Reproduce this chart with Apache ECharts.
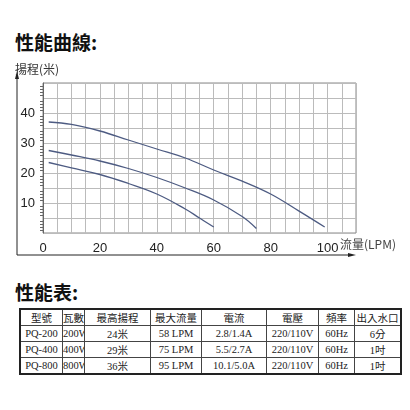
<!DOCTYPE html>
<html>
<head>
<meta charset="utf-8">
<script src="https://cdn.jsdelivr.net/npm/echarts@6/dist/echarts.min.js"></script>
<style>
  body { margin: 0; background: #fff; width: 410px; height: 410px; position: relative; overflow: hidden; }
  .head { position: absolute; left: 15px; font: bold 19px "Noto Sans CJK TC", sans-serif; color: #111; }
  #chart { position: absolute; left: 0; top: 0; width: 410px; height: 265px; }
  table { position: absolute; left: 19px; top: 308px; width: 374px; table-layout: fixed; border-collapse: collapse; border: 2px solid #222;
    font: 10.5px "Liberation Serif", "Noto Sans CJK TC", serif; color: #222; }
  td { border: 1px solid #444; height: 15px; padding: 0; text-align: center; white-space: nowrap; overflow: hidden; }
  tr:first-child td { font-weight: normal; }
</style>
</head>
<body>
<div class="head" style="top:28px">性能曲線:</div>
<div id="chart"></div>
<div class="head" style="top:278px">性能表:</div>
<table id="tbl"></table>
<script>
var flow200 = [2, 10, 20, 30, 40, 50, 55, 60];
var head200 = [23.5, 21.7, 19.5, 16.5, 13, 8, 5, 2];
var flow400 = [2, 10, 20, 30, 40, 50, 60, 70, 75];
var head400 = [27.5, 26, 24, 21.5, 18.5, 15, 11, 5.5, 1.5];
var flow800 = [2, 10, 20, 30, 40, 50, 60, 70, 80, 90, 99];
var head800 = [37, 36.2, 34, 31, 28, 25, 21, 17.3, 13, 7.3, 2];

var tableHeader = ['型號', '瓦數', '最高揚程', '最大流量', '電流', '電壓', '頻率', '出入水口'];
var tableRows = [
  ['PQ-200', '200W', '24米', '58 LPM', '2.8/1.4A', '220/110V', '60Hz', '6分'],
  ['PQ-400', '400W', '29米', '75 LPM', '5.5/2.7A', '220/110V', '60Hz', '1吋'],
  ['PQ-800', '800W', '36米', '95 LPM', '10.1/5.0A', '220/110V', '60Hz', '1吋']
];
var colWidths = [41, 21, 65, 50, 64, 51, 35, 45];

var tbl = document.getElementById('tbl');
[tableHeader].concat(tableRows).forEach(function (row) {
  var tr = document.createElement('tr');
  row.forEach(function (c, i) {
    var td = document.createElement('td');
    td.textContent = c;
    td.style.width = colWidths[i] + 'px';
    tr.appendChild(td);
  });
  tbl.appendChild(tr);
});

function pairs(xs, ys) {
  return xs.map(function (x, i) { return [x, ys[i]]; });
}
function curve(xs, ys) {
  return {
    type: 'line', smooth: 0.4, symbol: 'none',
    lineStyle: { color: '#4d5b82', width: 1.3 },
    data: pairs(xs, ys)
  };
}

var labelFont = { color: '#222', fontSize: 13, fontFamily: 'Liberation Sans, sans-serif' };
echarts.init(document.getElementById('chart')).setOption({
  animation: false,
  grid: { left: 43, top: 83, width: 313, height: 150, show: true, borderColor: '#888', borderWidth: 1 },
  xAxis: {
    type: 'value', min: 0, max: 110, interval: 5,
    axisLine: { show: false }, axisTick: { show: false },
    splitLine: { lineStyle: { color: '#bbb' } },
    axisLabel: Object.assign({
      margin: 9,
      formatter: function (v) { return v % 20 === 0 && v <= 100 ? v : ''; }
    }, labelFont)
  },
  yAxis: {
    type: 'value', min: 0, max: 50, interval: 5,
    axisLine: { show: true, lineStyle: { color: '#666' } },
    axisTick: { show: false },
    minorTick: { show: true, splitNumber: 5, length: 3, lineStyle: { color: '#666' } },
    splitLine: { lineStyle: { color: '#bbb' } },
    axisLabel: Object.assign({
      margin: 8,
      formatter: function (v) { return v % 10 === 0 && v > 0 && v < 50 ? v : ''; }
    }, labelFont)
  },
  graphic: [
    { type: 'line', shape: { x1: 17, y1: 255, x2: 17, y2: 76 }, style: { stroke: '#222', lineWidth: 1 } },
    { type: 'polygon', shape: { points: [[17, 71], [15, 79], [19, 79]] }, style: { fill: '#222' } },
    { type: 'line', shape: { x1: 17, y1: 255, x2: 350, y2: 255 }, style: { stroke: '#222', lineWidth: 1 } },
    { type: 'polygon', shape: { points: [[356, 255], [348, 253], [348, 257]] }, style: { fill: '#222' } },
    { type: 'text', left: 15, top: 63, style: { text: '揚程(米)', fill: '#333', font: '12px "Noto Sans CJK TC", sans-serif' } },
    { type: 'text', left: 340, top: 238, style: { text: '流量(LPM)', fill: '#444', font: '12px "Noto Sans CJK TC", sans-serif' } }
  ],
  series: [curve(flow800, head800), curve(flow400, head400), curve(flow200, head200)]
});
</script>
</body>
</html>
